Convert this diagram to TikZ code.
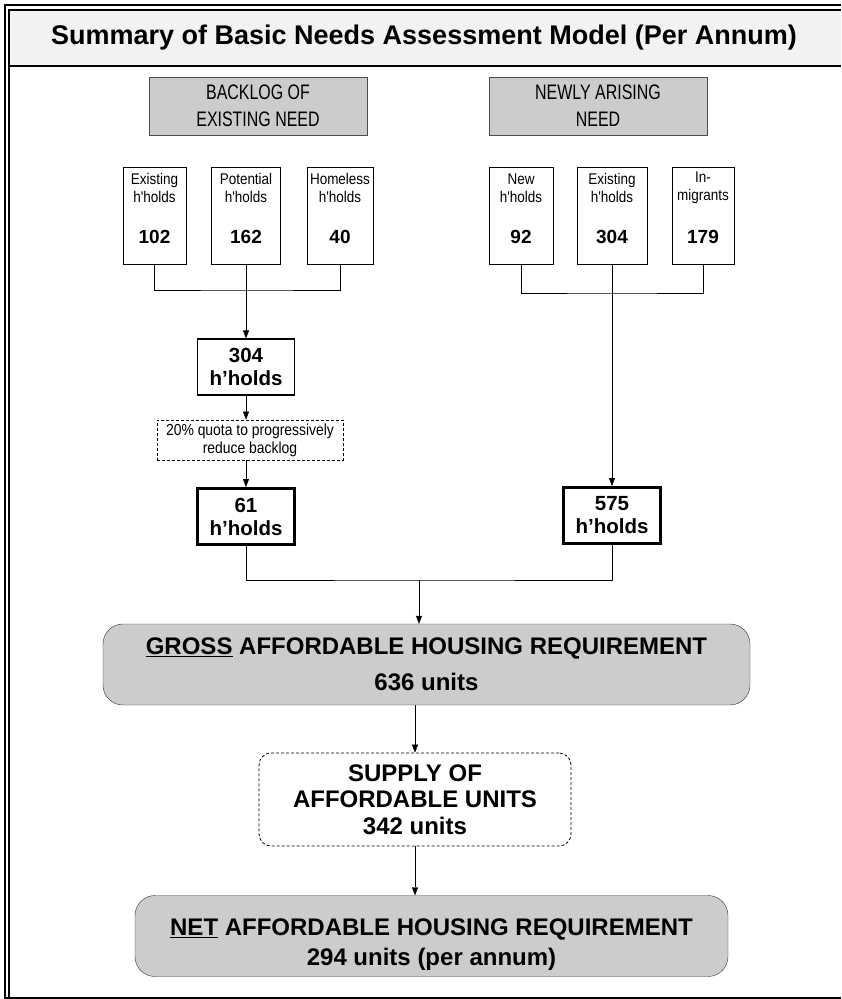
\documentclass[tikz,border=0pt]{standalone}
\usepackage{fontspec}
\setmainfont{Liberation Sans}
\newfontfamily\headfont[FakeStretch=0.76]{Liberation Sans}
\newfontfamily\cellfont[FakeStretch=0.87]{Liberation Sans}
\usetikzlibrary{arrows.meta}
\definecolor{bandgray}{HTML}{F2F2F2}
\definecolor{boxgray}{HTML}{CCCCCC}
\newcommand{\hholds}{h\char39 holds}

\begin{document}
\begin{tikzpicture}[x=1pt, y=-1pt, >={Triangle[length=8pt,width=6pt]},
  head/.style={draw=black!70, fill=boxgray, inner sep=0, minimum width=218, minimum height=58, align=center, font=\headfont\fontsize{21}{27}\selectfont},
  cell/.style={draw, line width=0.8, inner sep=0, minimum height=97},
  celltxt/.style={align=center, inner sep=0, font=\cellfont\fontsize{15.5}{17.5}\selectfont},
  cellnum/.style={inner sep=0, font=\bfseries\fontsize{19}{22}\selectfont},
  hbox/.style={draw, inner sep=0, minimum width=97, minimum height=56, align=center, font=\bfseries\fontsize{20.5}{23}\selectfont},
  quota/.style={draw, dash pattern=on 3pt off 2pt, line width=0.8, inner sep=0, minimum width=186, minimum height=40, align=center, font=\cellfont\fontsize{16}{18}\selectfont},
  bigbox/.style={draw=black!80, fill=boxgray, rounded corners=20, inner sep=0, minimum height=81, align=center, font=\bfseries\fontsize{24}{30}\selectfont},
  supply/.style={draw, dash pattern=on 3pt off 2pt, line width=0.8, rounded corners=12, inner sep=0, minimum width=312, minimum height=93, align=center, font=\bfseries\fontsize{24}{26.5}\selectfont}]
  \useasboundingbox (0,0) rectangle (841,999);
  \fill[bandgray] (9,10) rectangle (841,66);
  \draw[line width=1.2] (5,998) -- (5,5) -- (841,5);
  \draw[line width=1.2] (9,998) -- (9,10) -- (841,10);
  \draw[line width=2.5] (9,66) -- (841,66);
  \draw[line width=2] (4,997.5) -- (841,997.5);
  \node[font=\bfseries\fontsize{27}{30}\selectfont] (title) at (424,38) {Summary of Basic Needs Assessment Model (Per Annum)};

  \node[head] (backlog) at (258,106) {BACKLOG OF\\EXISTING NEED};
  \node[head] (newly) at (598,106) {NEWLY ARISING\\NEED};

  \foreach \nm/\x/\w/\la/\lb/\num in {exA/154.5/63/Existing/\hholds/102, exB/246/69/Potential/\hholds/162,
      exC/340/66/Homeless/\hholds/40, nwA/521/64/New/\hholds/92, nwB/612/70/Existing/\hholds/304, nwC/703/62/In-/migrants/179}
  {
    \node[cell, minimum width=\w] (\nm) at (\x,215.5) {};
    \node[celltxt] (\nm-t) at (\x,188) {\la\\\lb};
    \node[cellnum] (\nm-n) at (\x,237) {\num};
  }

  \node[hbox, line width=1.2] (hA) at (246,367) {304\\\hholds};
  \node[quota] (quota) at (250,440) {20\% quota to progressively\\reduce backlog};
  \node[hbox, line width=3] (hB) at (246,516.5) {61\\\hholds};
  \node[hbox, line width=3] (hC) at (612,515.5) {575\\\hholds};

  \node[bigbox, minimum width=647] (gross) at (426.5,664.5) {\underline{GROSS} AFFORDABLE HOUSING REQUIREMENT\\[6pt]636 units};
  \node[supply] (supply) at (415,799.5) {SUPPLY OF\\AFFORDABLE UNITS\\342 units};
  \node[bigbox, minimum width=593] (net) at (431.5,936) {\rule{0pt}{34pt}\underline{NET} AFFORDABLE HOUSING REQUIREMENT\\294 units (per annum)};

  \coordinate (jl) at (246,290);
  \coordinate (jr) at (612,293);
  \coordinate (jm) at (419,580);
  \draw (exA.south) |- (jl) -| (exC.south);
  \draw[->] (exB.south) -- (hA.north);
  \draw (nwA.south) |- (jr) -| (nwC.south);
  \draw[->] (nwB.south) -- (hC.north);
  \draw[->] (hA.south) -- (hA.south |- quota.north);
  \draw[->] (hB.north |- quota.south) -- (hB.north);
  \draw (hB.south) |- (jm) -| (hC.south);
  \draw[->] (jm) -- (jm |- gross.north);
  \draw[->] (gross.south -| supply.north) -- (supply.north);
  \draw[->] (supply.south) -- (supply.south |- net.north);
\end{tikzpicture}
\end{document}
